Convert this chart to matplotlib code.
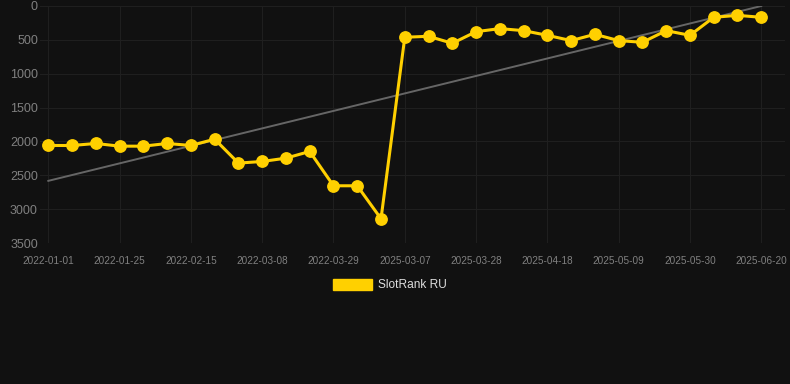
import numpy as np
import matplotlib.pyplot as plt
from matplotlib.patches import Patch

plt.rcParams['font.family'] = ['Liberation Sans', 'DejaVu Sans']

# 日期标签（每周一个点）
dates = ['2022-01-01', '2022-01-09', '2022-01-17', '2022-01-25', '2022-02-01',
         '2022-02-08', '2022-02-15', '2022-02-22', '2022-03-01', '2022-03-08',
         '2022-03-15', '2022-03-22', '2022-03-29', '2022-04-05', '2022-04-12',
         '2025-03-07', '2025-03-14', '2025-03-21', '2025-03-28', '2025-04-04',
         '2025-04-11', '2025-04-18', '2025-04-25', '2025-05-02', '2025-05-09',
         '2025-05-16', '2025-05-23', '2025-05-30', '2025-06-06', '2025-06-13',
         '2025-06-20']
rank = [2060, 2060, 2030, 2070, 2070, 2030, 2060, 1967, 2320, 2296,
        2247, 2148, 2655, 2655, 3142, 462, 447, 551, 379, 334,
        364, 433, 511, 418, 511, 536, 364, 433, 167, 138, 167]
yticks = [0, 500, 1000, 1500, 2000, 2500, 3000, 3500]

bg = '#111111'
gold = '#FFD000'

x = np.arange(len(rank))
k, b = np.polyfit(x, rank, 1)

fig = plt.figure(figsize=(7.9, 3.84), dpi=100, facecolor=bg)
ax = fig.add_axes([40 / 790, 1 - 243 / 384, 745 / 790, 237 / 384])
ax.set_facecolor(bg)

# 趋势线
ax.plot([x[0], x[-1]], [k * x[0] + b, k * x[-1] + b], color='#666666', lw=1.4, zorder=2)
ax.plot(x, rank, color=gold, lw=2.2, marker='o', markersize=8.2, zorder=3)

ax.set_ylim(3500, 0)
ax.set_xlim(-0.35, 31)
ax.set_yticks(yticks)
ax.set_xticks(x[::3])
ax.set_xticklabels(dates[::3])
ax.tick_params(axis='y', colors='#808080', labelsize=9, length=0, pad=1.5)
ax.tick_params(axis='x', colors='#808080', labelsize=7.2, length=0, pad=9)
ax.grid(True, color='#1f1f1f', lw=0.8)
for s in ax.spines.values():
    s.set_visible(False)

leg = fig.legend(handles=[Patch(facecolor=gold, edgecolor=gold, label='SlotRank RU')],
                 loc='center', bbox_to_anchor=(390 / 790, 1 - 285 / 384),
                 frameon=False, handlelength=3.3, handleheight=1.1,
                 handletextpad=0.5, fontsize=8.6)
for t in leg.get_texts():
    t.set_color('#dddddd')

fig.savefig('out.png', dpi=100, facecolor=bg)
